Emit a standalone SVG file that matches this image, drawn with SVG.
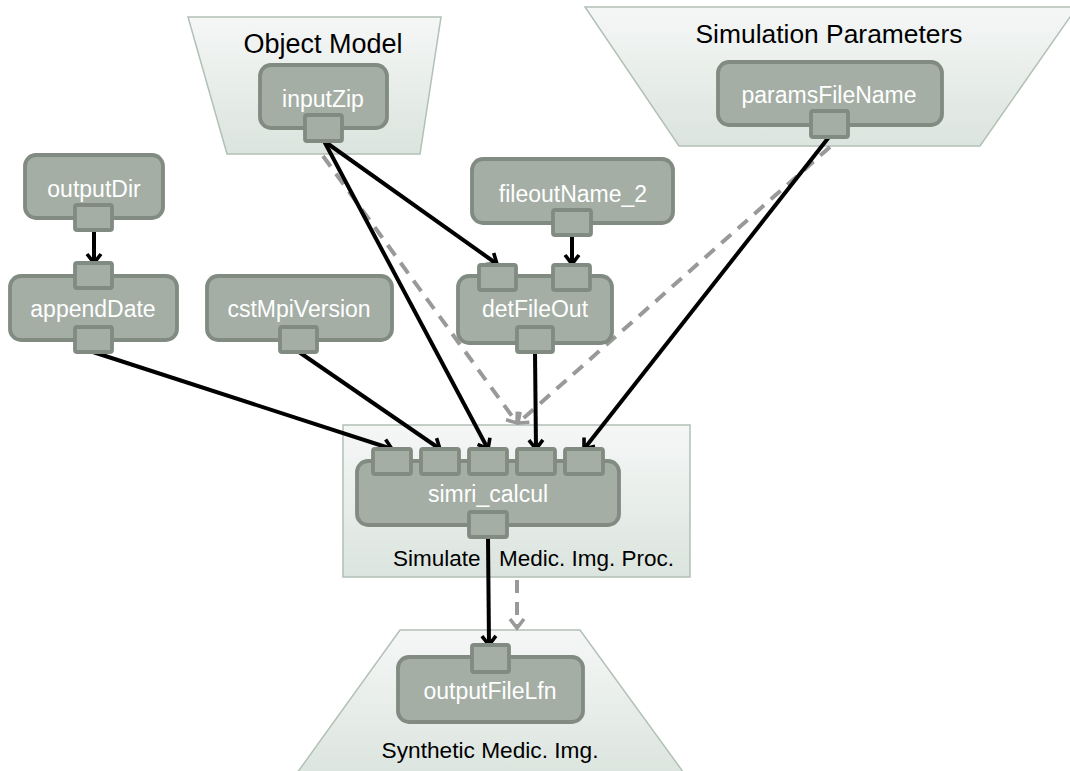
<svg xmlns="http://www.w3.org/2000/svg" width="1070" height="771" viewBox="0 0 1070 771">
<defs>
<linearGradient id="gc" x1="0" y1="0" x2="0" y2="1">
<stop offset="0" stop-color="#f5f7f6"/>
<stop offset="1" stop-color="#dbe4de"/>
</linearGradient>
<marker id="ab" viewBox="0 0 18 18" markerWidth="18" markerHeight="18" refX="14" refY="9" orient="auto" markerUnits="userSpaceOnUse">
<path d="M5,2 L14,9 L5,16" fill="none" stroke="#000" stroke-width="3.6"/>
</marker>
<marker id="ag" viewBox="0 0 18 18" markerWidth="18" markerHeight="18" refX="14" refY="9" orient="auto" markerUnits="userSpaceOnUse">
<path d="M5,2 L14,9 L5,16" fill="none" stroke="#999" stroke-width="3.6"/>
</marker>
</defs>
<style>
.cont{fill:url(#gc);stroke:#b2c0b6;stroke-width:1.5}
.clbl{font-family:"Liberation Sans",Arial,sans-serif;fill:#000;text-anchor:middle}
.box{fill:#a4aea5;stroke:#818b82;stroke-width:3.8}
.port{fill:#a4aea5;stroke:#818b82;stroke-width:3.8}
.nlbl{font-family:"Liberation Sans",Arial,sans-serif;font-size:23px;fill:#fff;text-anchor:middle}
.cb{fill:none;stroke:#000;stroke-width:4;marker-end:url(#ab)}
.cg{fill:none;stroke:#999;stroke-width:4;stroke-dasharray:13 9;marker-end:url(#ag)}
</style>

<g id="grp-object-model">
<polygon class="cont" points="188,17 441,17 420,154 227,154"/>
<text class="clbl" x="323" y="53" font-size="27">Object Model</text>
</g>
<g id="grp-simulation-parameters">
<polygon class="cont" points="585,7 1077,7 980,146 679,146"/>
<text class="clbl" x="829" y="43" font-size="26.4">Simulation Parameters</text>
</g>
<g id="grp-simulate">
<rect class="cont" x="343" y="425" width="347" height="152"/>
<text class="clbl" x="393" y="566" font-size="22.5" style="text-anchor:start"><tspan>Simulate </tspan><tspan x="499">Medic. Img. Proc.</tspan></text>
</g>
<g id="grp-synthetic">
<polygon class="cont" points="400,630 580,630 689,780 292,780"/>
<text class="clbl" x="490" y="758" font-size="22.7">Synthetic Medic. Img.</text>
</g>

<g id="connectors">
<line class="cg" x1="323" y1="156" x2="517" y2="423"/>
<line class="cg" x1="830" y1="147" x2="518" y2="423"/>
<line class="cg" x1="517" y1="580" x2="517" y2="628"/>
<line class="cb" x1="94" y1="231" x2="94" y2="263"/>
<line class="cb" x1="324" y1="141" x2="497" y2="264"/>
<line class="cb" x1="572" y1="235" x2="572" y2="264"/>
<line class="cb" x1="93" y1="352" x2="392" y2="449"/>
<line class="cb" x1="299" y1="352" x2="440" y2="449"/>
<line class="cb" x1="324" y1="141" x2="488" y2="449"/>
<line class="cb" x1="535" y1="352" x2="536" y2="449"/>
<line class="cb" x1="829" y1="137" x2="584" y2="449"/>
<line class="cb" x1="488" y1="537" x2="489" y2="645"/>
</g>

<g id="node-inputZip">
<rect class="box" x="260" y="65" width="127" height="63" rx="11"/>
<rect class="port" x="305" y="115" width="37" height="26" rx="2"/>
<text class="nlbl" x="323" y="107">inputZip</text>
</g>
<g id="node-paramsFileName">
<rect class="box" x="718" y="62" width="224" height="63" rx="11"/>
<rect class="port" x="811" y="111" width="37" height="26" rx="2"/>
<text class="nlbl" x="829" y="103">paramsFileName</text>
</g>
<g id="node-outputDir">
<rect class="box" x="25" y="155" width="138" height="63" rx="11"/>
<rect class="port" x="75" y="205" width="37" height="25" rx="2"/>
<text class="nlbl" x="94" y="197">outputDir</text>
</g>
<g id="node-appendDate">
<rect class="box" x="10" y="276" width="167" height="64" rx="11"/>
<rect class="port" x="75" y="263" width="37" height="25" rx="2"/>
<rect class="port" x="75" y="327" width="37" height="25" rx="2"/>
<text class="nlbl" x="93" y="317">appendDate</text>
</g>
<g id="node-cstMpiVersion">
<rect class="box" x="207" y="276" width="185" height="64" rx="11"/>
<rect class="port" x="280" y="327" width="37" height="25" rx="2"/>
<text class="nlbl" x="299" y="317">cstMpiVersion</text>
</g>
<g id="node-fileoutName_2">
<rect class="box" x="472" y="159" width="201" height="64" rx="11"/>
<rect class="port" x="553" y="210" width="38" height="25" rx="2"/>
<text class="nlbl" x="573" y="202">fileoutName_2</text>
</g>
<g id="node-detFileOut">
<rect class="box" x="458" y="276" width="154" height="67" rx="11"/>
<rect class="port" x="479" y="265" width="37" height="25" rx="2"/>
<rect class="port" x="553" y="265" width="37" height="25" rx="2"/>
<rect class="port" x="517" y="327" width="36" height="25" rx="2"/>
<text class="nlbl" x="535" y="317">detFileOut</text>
</g>
<g id="node-simri_calcul">
<rect class="box" x="357" y="461" width="262" height="64" rx="11"/>
<rect class="port" x="373" y="449" width="38" height="25" rx="2"/>
<rect class="port" x="421" y="449" width="38" height="25" rx="2"/>
<rect class="port" x="469" y="449" width="38" height="25" rx="2"/>
<rect class="port" x="517" y="449" width="38" height="25" rx="2"/>
<rect class="port" x="565" y="449" width="38" height="25" rx="2"/>
<rect class="port" x="469" y="512" width="38" height="25" rx="2"/>
<text class="nlbl" x="488" y="502">simri_calcul</text>
</g>
<g id="node-outputFileLfn">
<rect class="box" x="398" y="657" width="185" height="65" rx="11"/>
<rect class="port" x="472" y="645" width="37" height="27" rx="2"/>
<text class="nlbl" x="490" y="699">outputFileLfn</text>
</g>
</svg>
